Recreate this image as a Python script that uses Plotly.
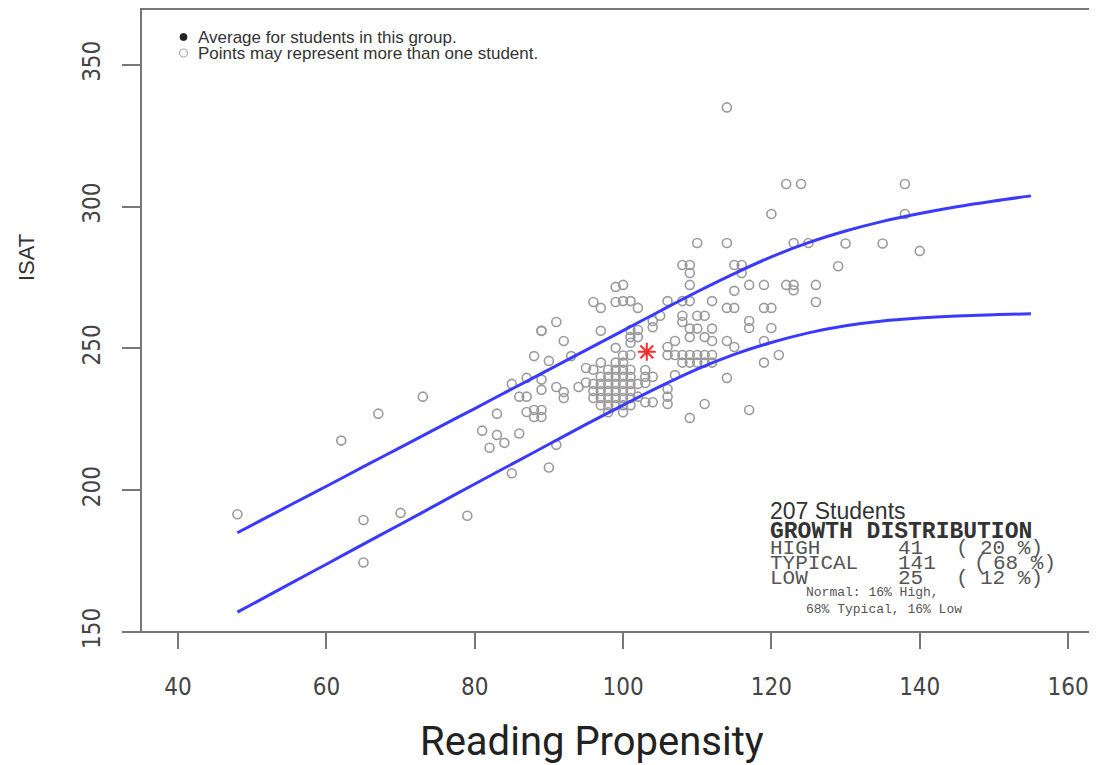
import plotly.graph_objects as go

# ---------------- data ----------------
student_x = [48, 62, 65, 65, 67, 70, 73, 79,
             81, 82, 83, 83, 84, 85, 85, 86, 86, 87, 87, 87, 88, 88, 88, 89, 89, 89, 89, 89, 89,
             90, 90, 91, 91, 91, 92, 92, 92, 93, 94, 95, 95,
             96, 97, 97, 99, 99, 99,
             96, 96, 96, 96,
             97, 97, 97, 97, 97, 97,
             98, 98, 98, 98, 98, 98, 98,
             99, 99, 99, 99, 99, 99, 99,
             100, 100, 100, 100, 100, 100, 100, 100, 100,
             101, 101, 101, 101, 101, 101,
             102, 102,
             100, 100, 101, 102, 101, 102, 101, 102, 101, 101, 103, 103, 104, 103, 104, 104, 105,
             106, 106, 106, 106, 106, 106, 103, 104, 107, 107, 107,
             108, 108, 108, 108, 108, 108, 109, 109, 109, 109, 109, 109, 109, 109, 109,
             110, 110, 110, 110, 110, 111, 111, 111, 111, 111, 112, 112, 112, 112, 112,
             114, 114, 114, 114, 114, 115, 115, 115, 115, 116, 116, 117, 117, 117, 117,
             119, 119, 119, 119, 120, 120, 120, 121, 122, 122, 123, 123, 123, 124, 125,
             126, 126, 129, 130, 135, 138, 138, 140]
student_y = [191.5, 217.5, 189.5, 174.5, 227, 192, 233, 191,
             221, 215, 227, 219.5, 216.7, 237.5, 206, 220, 233, 239.6, 233, 227.6, 228.3, 225.8, 247.3, 256.2, 239, 235.4, 228.3, 225.8, 256.2,
             245.6, 208, 236.4, 259.3, 216, 234.6, 232.5, 252.6, 247.3, 236.4, 238, 243.1,
             266.4, 264.3, 256.2, 271.7, 266.4, 250.2,
             242.5, 237.5, 235, 232.5,
             245, 240, 237.5, 235, 232.5, 230,
             242.5, 240, 237.5, 235, 232.5, 230, 227.5,
             245, 242.5, 240, 237.5, 235, 232.5, 230,
             247.5, 245, 242.5, 240, 237.5, 235, 232.5, 230, 227.5,
             242.5, 240, 237.5, 235, 232.5, 230,
             237.5, 233,
             272.4, 266.7, 266.7, 264.3, 256.5, 256.5, 254, 254, 252, 247.7, 242.4, 240, 240, 237.8, 257.5, 259.7, 261.5,
             266.7, 250.5, 247.7, 235.7, 233, 230.4, 231, 231, 252.6, 247.7, 240.6,
             279.4, 266.7, 261.5, 259.3, 247.7, 245, 279.4, 276.6, 272.4, 266.7, 257, 254, 247.7, 245, 225.5,
             287.2, 261.5, 257, 247.7, 245, 261.5, 254, 247.7, 245, 230.4, 266.7, 257, 252.6, 247.7, 245,
             287.2, 264.3, 252.6, 239.6, 335, 279.4, 270.3, 264.3, 250.5, 279.4, 276.6, 272.4, 259.7, 257.2, 228.3,
             272.4, 264.3, 252.6, 245, 297.4, 264.3, 257.2, 247.7, 308, 272.4, 287.2, 272.4, 270.5, 308, 287.2,
             272.4, 266.4, 279, 287, 287, 308, 297.4, 284.4]

curve_x = [48, 55, 60, 65, 70, 75, 80, 85, 90, 95, 100, 105, 110, 115, 120, 125, 130, 135, 140, 145, 150, 155]
upper_y = [185, 194.6, 201.4, 208.3, 215.1, 222, 228.8, 235.7, 242.5, 249.4, 256.3, 263.2, 270, 276.4, 282.3, 287.3, 291.4, 294.8, 297.6, 300, 302, 303.8]
lower_y = [157, 166.9, 173.9, 181, 188, 195.1, 202.2, 209.2, 216.2, 223.2, 230, 236.6, 242.7, 247.9, 252.1, 255.5, 258, 259.7, 260.7, 261.4, 261.9, 262.2]

avg_x = [103.2]
avg_y = [248.8]

x_ticks = [40, 60, 80, 100, 120, 140, 160]
y_ticks = [150, 200, 250, 300, 350]

summary_title = "207 Students"
summary_head = "GROWTH DISTRIBUTION"
groups = ["HIGH", "TYPICAL", "LOW"]
group_counts = [41, 141, 25]
group_pcts = [20, 68, 12]
normal_note = ["Normal: 16% High,", "68% Typical, 16% Low"]
legend_lines = ["Average for students in this group.",
                "Points may represent more than one student."]

# ---------------- figure ----------------
fig = go.Figure()

fig.add_trace(go.Scatter(
    x=student_x, y=student_y, mode="markers",
    marker=dict(symbol="circle-open", size=9, color="#9a9a9a", line=dict(width=1.6, color="#9a9a9a")),
    showlegend=False, hoverinfo="skip"))

fig.add_trace(go.Scatter(
    x=curve_x, y=upper_y, mode="lines", line=dict(color="#3a3aff", width=3, shape="spline"),
    showlegend=False, hoverinfo="skip"))
fig.add_trace(go.Scatter(
    x=curve_x, y=lower_y, mode="lines", line=dict(color="#3a3aff", width=3, shape="spline"),
    showlegend=False, hoverinfo="skip"))

fig.add_trace(go.Scatter(
    x=avg_x, y=avg_y, mode="markers",
    marker=dict(symbol="asterisk-open", size=15, color="#ff2a2a", line=dict(width=2, color="#ff2a2a")),
    showlegend=False, hoverinfo="skip"))

# page has an 8px body margin: figure coordinates = page coordinates - 8
OFF = 8
W, H = 1097 - OFF, 765 - OFF
L, R, T, B = 141 - OFF, 3, 9 - OFF, 765 - 632

def px(xp):
    return (xp - OFF - L) / (W - L - R)

def py(yp):
    return (H - B - (yp - OFF)) / (H - T - B)

tick_font = dict(family="Liberation Sans Narrow, DejaVu Sans Condensed, Roboto, sans-serif", size=24, color="#444")

fig.update_layout(
    width=W, height=H,
    margin=dict(l=L, r=R, t=T, b=B),
    paper_bgcolor="white", plot_bgcolor="white",
    xaxis=dict(range=[35.0, 163.5], tickvals=x_ticks, ticktext=[str(v) for v in x_ticks],
               showgrid=False, zeroline=False, showline=False,
               ticks="outside", ticklen=16, tickwidth=2, tickcolor="#777",
               ticklabelstandoff=17, tickfont=tick_font),
    yaxis=dict(range=[150, 369.7], tickvals=y_ticks, ticktext=[str(v) for v in y_ticks],
               showgrid=False, zeroline=False, showline=False,
               ticks="outside", ticklen=18, tickwidth=2, tickcolor="#777",
               tickangle=-90, ticklabelstandoff=12, tickfont=tick_font),
    shapes=[dict(type="rect", xref="paper", yref="paper", x0=0, x1=1, y0=0, y1=1,
                 line=dict(color="#777", width=2), fillcolor="rgba(0,0,0,0)", layer="above")],
)

ann = []
# axis titles
ann.append(dict(text="Reading Propensity", xref="paper", yref="paper", x=px(592), y=py(741),
                showarrow=False, font=dict(family="Roboto, sans-serif", size=40, color="#222"),
                xanchor="center", yanchor="middle"))
ann.append(dict(text="ISAT", xref="paper", yref="paper", x=px(26), y=py(258), textangle=-90,
                showarrow=False, font=dict(family="Liberation Sans, Arial, sans-serif", size=22, color="#333"),
                xanchor="center", yanchor="middle"))
# legend text
for i, t in enumerate(legend_lines):
    ann.append(dict(text=t, xref="paper", yref="paper", x=px(196), y=py(37 + 16 * i),
                    showarrow=False, font=dict(family="Liberation Sans, Arial, sans-serif", size=17, color="#333"),
                    xanchor="left", yanchor="middle"))
# summary box
ann.append(dict(text=summary_title, xref="paper", yref="paper", x=px(768), y=py(511),
                showarrow=False, font=dict(family="Liberation Sans, Arial, sans-serif", size=23, color="#333"),
                xanchor="left", yanchor="middle"))
ann.append(dict(text="<b>" + summary_head + "</b>", xref="paper", yref="paper", x=px(768), y=py(532),
                showarrow=False, font=dict(family="Liberation Mono, Courier New, monospace", size=23, color="#333"),
                xanchor="left", yanchor="middle"))
for i, (g, c, p) in enumerate(zip(groups, group_counts, group_pcts)):
    yy = py(548 + 15 * i)
    f = dict(family="Liberation Mono, Courier New, monospace", size=21, color="#555")
    ann.append(dict(text=g, xref="paper", yref="paper", x=px(768), y=yy, showarrow=False, font=f,
                    xanchor="left", yanchor="middle"))
    ann.append(dict(text=str(c), xref="paper", yref="paper", x=px(896), y=yy, showarrow=False, font=f,
                    xanchor="left", yanchor="middle"))
    ann.append(dict(text="(", xref="paper", yref="paper", x=px(962 + (18 if g == "TYPICAL" else 0)), y=yy,
                    showarrow=False, font=f, xanchor="center", yanchor="middle"))
    ann.append(dict(text="%d %%)" % p, xref="paper", yref="paper", x=px(1045 + (13 if g == "TYPICAL" else 0)), y=yy,
                    showarrow=False, font=f, xanchor="right", yanchor="middle"))
for i, t in enumerate(normal_note):
    ann.append(dict(text=t, xref="paper", yref="paper", x=px(804), y=py(592 + 17 * i),
                    showarrow=False, font=dict(family="Liberation Mono, Courier New, monospace", size=13, color="#555"),
                    xanchor="left", yanchor="middle"))
fig.update_layout(annotations=ann)

# legend symbols (paper-positioned shapes)
fig.add_shape(type="circle", xref="paper", yref="paper", x0=px(180), x1=px(187), y0=py(40.5), y1=py(33.5),
              fillcolor="#222", line=dict(color="#222", width=1))
fig.add_shape(type="circle", xref="paper", yref="paper", x0=px(179.5), x1=px(187.5), y0=py(57), y1=py(49),
              fillcolor="rgba(0,0,0,0)", line=dict(color="#aaa", width=1.2))

fig.write_html("out.html")
